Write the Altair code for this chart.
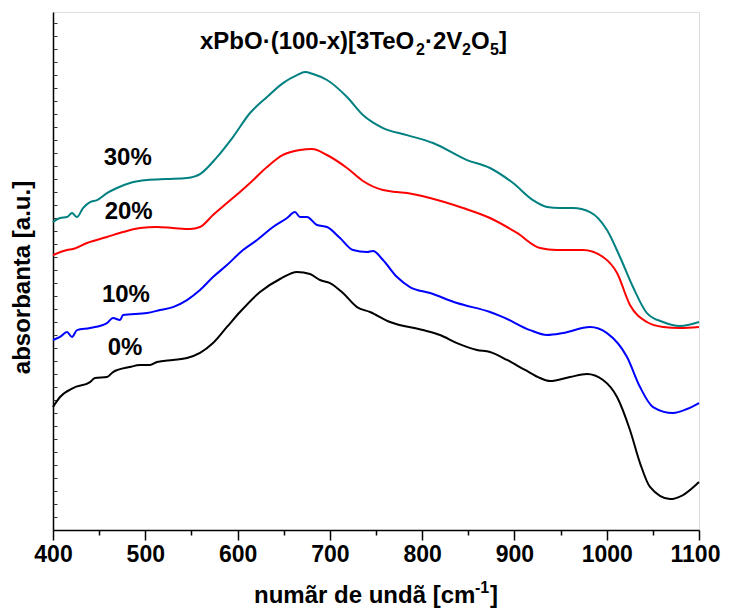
import altair as alt
import pandas as pd

FONT = "Liberation Sans"

# ---------------- data ----------------
series_names = ["0%", "10%", "20%", "30%"]
series_colors = ["#000000", "#0000ff", "#ff0000", "#008080"]

wave_0 = [400, 407.6, 421.7, 440.1, 445.5, 458.5, 465.0, 483.4, 494.3, 505.1,
          512.7, 530.0, 545.2, 559.3, 573.4, 588.5, 602.6, 624.3, 646.0, 664.4,
          678.5, 689.3, 700.2, 714.2, 729.4, 743.5, 765.2, 800.9, 819.4, 837.8,
          859.4, 873.5, 892.0, 911.5, 927.7, 938.6, 960.2, 978.6, 996.0, 1011.2,
          1025.2, 1036.1, 1046.9, 1068.6, 1082.7, 1100]
abs_0 = [0.946, 1.023, 1.092, 1.138, 1.169, 1.177, 1.215, 1.254, 1.269, 1.269,
         1.292, 1.308, 1.323, 1.362, 1.438, 1.562, 1.677, 1.831, 1.931, 1.985,
         1.969, 1.923, 1.900, 1.823, 1.715, 1.677, 1.600, 1.538, 1.500, 1.438,
         1.385, 1.369, 1.308, 1.231, 1.169, 1.146, 1.177, 1.200, 1.154, 1.023,
         0.769, 0.515, 0.331, 0.238, 0.269, 0.369]

wave_10 = [400, 407.6, 415.2, 420.6, 426.0, 440.1, 458.5, 465.0, 472.6, 475.9,
           501.9, 515.9, 530.0, 545.2, 559.3, 573.4, 588.5, 605.9, 621.1, 638.4,
           653.6, 662.2, 667.6, 675.2, 686.1, 696.9, 711.0, 725.1, 740.2, 746.8,
           757.6, 772.8, 786.8, 808.5, 837.8, 873.5, 887.6, 916.9, 935.3, 952.6,
           981.9, 1000.3, 1022.0, 1036.1, 1050.2, 1071.8, 1087.0, 1100]
abs_10 = [1.462, 1.485, 1.523, 1.485, 1.538, 1.554, 1.592, 1.631, 1.615, 1.654,
          1.669, 1.692, 1.715, 1.769, 1.846, 1.946, 2.038, 2.154, 2.231, 2.331,
          2.400, 2.446, 2.408, 2.408, 2.346, 2.331, 2.246, 2.154, 2.138, 2.146,
          2.077, 1.946, 1.869, 1.823, 1.746, 1.677, 1.638, 1.538, 1.500, 1.515,
          1.562, 1.515, 1.331, 1.100, 0.946, 0.900, 0.931, 0.977]

wave_20 = [400, 415.2, 421.7, 436.8, 458.5, 475.9, 494.3, 512.7, 530.0, 548.5,
           559.3, 573.4, 588.5, 602.6, 613.5, 631.9, 649.2, 667.6, 680.7, 696.9,
           718.6, 735.9, 757.6, 772.8, 783.6, 808.5, 844.3, 873.5, 902.8, 927.7,
           946.1, 974.3, 996.0, 1011.2, 1025.2, 1043.6, 1061.0, 1079.4, 1100]
abs_20 = [2.115, 2.154, 2.162, 2.208, 2.254, 2.292, 2.323, 2.331, 2.323, 2.315,
          2.331, 2.423, 2.515, 2.600, 2.669, 2.792, 2.885, 2.923, 2.931, 2.885,
          2.785, 2.685, 2.615, 2.600, 2.592, 2.554, 2.477, 2.400, 2.285, 2.169,
          2.154, 2.154, 2.100, 1.977, 1.731, 1.600, 1.562, 1.554, 1.562]

wave_30 = [400, 407.6, 415.2, 420.6, 426.0, 432.5, 440.1, 447.7, 458.5, 469.3,
           483.4, 501.9, 523.5, 545.2, 559.3, 577.7, 595.0, 613.5, 631.9, 649.2,
           664.4, 673.1, 681.7, 696.9, 718.6, 735.9, 757.6, 783.6, 811.8, 848.6,
           873.5, 898.5, 920.1, 935.3, 949.4, 963.5, 981.9, 1000.3, 1014.4, 1028.5,
           1043.6, 1061.0, 1079.4, 1100]
abs_30 = [2.369, 2.400, 2.408, 2.438, 2.408, 2.477, 2.523, 2.538, 2.592, 2.631,
          2.669, 2.692, 2.700, 2.708, 2.738, 2.869, 3.023, 3.208, 3.331, 3.438,
          3.500, 3.523, 3.508, 3.462, 3.331, 3.192, 3.092, 3.038, 2.977, 2.846,
          2.785, 2.669, 2.538, 2.485, 2.477, 2.477, 2.446, 2.308, 2.100, 1.869,
          1.669, 1.600, 1.569, 1.600]

label_text = ["30%", "20%", "10%", "0%"]
label_wave = [481, 482, 479, 478]
label_abs = [2.862, 2.446, 1.808, 1.400]

x_major = [400, 500, 600, 700, 800, 900, 1000, 1100]
x_minor = [450, 550, 650, 750, 850, 950, 1050]
y_ticks = [round(0.1 * i, 1) for i in range(1, 40)]

# ---------------- build chart ----------------
frames = []
for name, w, a in [("0%", wave_0, abs_0), ("10%", wave_10, abs_10),
                   ("20%", wave_20, abs_20), ("30%", wave_30, abs_30)]:
    frames.append(pd.DataFrame({"wave": w, "absorb": a, "series": name}))
df = pd.concat(frames, ignore_index=True)
labels_df = pd.DataFrame({"wave": label_wave, "absorb": label_abs, "label": label_text})

W, H = 646, 518
xscale = alt.Scale(domain=[400, 1100], nice=False, zero=False)
yscale = alt.Scale(domain=[0, 3.985], nice=False, zero=False)

lines = alt.Chart(df).mark_line(strokeWidth=2, interpolate="monotone").encode(
    x=alt.X("wave:Q", scale=xscale, axis=alt.Axis(
        orient="bottom", values=x_major, format="d", tickSize=10, tickWidth=1.5,
        tickColor="black", domainColor="black", domainWidth=1.5, grid=False, title=None,
        labelFont=FONT, labelFontSize=23, labelFontWeight="bold", labelColor="black",
        labelPadding=3, labelFlush=False, labelOverlap=False, labelBound=False,
        labelOffset={"expr": "datum.value == 1100 ? -4 : 0"})),
    y=alt.Y("absorb:Q", scale=yscale, axis=alt.Axis(
        orient="left", ticks=False, labels=False, grid=False,
        domainColor="black", domainWidth=1.5,
        title="absorbanta [a.u.]", titleFont=FONT, titleFontSize=24,
        titleFontWeight="bold", titleColor="black", titleX=-31, titleY=265,
        titleBaseline="middle", titleAlign="center", titleAngle=270)),
    color=alt.Color("series:N", scale=alt.Scale(domain=series_names, range=series_colors),
                    legend=None),
    detail="series:N",
)

tick_layer = alt.Chart(df).mark_point(opacity=0).encode(
    x=alt.X("wave:Q", scale=xscale, axis=alt.Axis(
        orient="bottom", values=x_minor, tickSize=5, tickWidth=1.5, tickColor="black",
        labels=False, domain=False, grid=False, title=None)),
    y=alt.Y("absorb:Q", scale=yscale, axis=alt.Axis(
        orient="right", offset=-W, values=y_ticks, tickSize=4, tickWidth=1,
        tickColor="#333333", labels=False, domain=False, grid=False, title=None)),
)

pct = alt.Chart(labels_df).mark_text(
    font=FONT, fontSize=24, fontWeight="bold", color="black",
    align="center", baseline="middle").encode(
    x=alt.X("wave:Q", scale=xscale, axis=None),
    y=alt.Y("absorb:Q", scale=yscale, axis=None),
    text="label:N",
)


def piece(txt, x, y, size):
    return alt.Chart(pd.DataFrame({"t": [txt]})).mark_text(
        font=FONT, fontSize=size, fontWeight="bold", color="black",
        align="left", baseline="alphabetic").encode(
        x=alt.value(x), y=alt.value(y), text="t:N")


title_parts = [
    piece("xPbO·(100-x)[3TeO", 147, 37, 24),
    piece("2", 363, 43, 16),
    piece("·2V", 372, 37, 24),
    piece("2", 409, 43, 16),
    piece("O", 418, 37, 24),
    piece("5", 437, 43, 16),
    piece("]", 446, 37, 24),
]
xtitle_parts = [
    piece("numãr de undã [cm", 201, 591, 24),
    piece("-1", 422, 581, 16),
    piece("]", 437, 591, 24),
]

chart = alt.layer(lines, tick_layer, pct, *title_parts, *xtitle_parts).resolve_axis(
    x="independent", y="independent"
).properties(
    width=W, height=H,
    autosize=alt.AutoSizeParams(type="none"),
    padding={"left": 45, "top": 4, "right": 22, "bottom": 79},
).configure_view(
    stroke="#333333", strokeWidth=1.5
).configure(background="white")

chart.save("out.html", embed_options={"renderer": "svg", "actions": False})
